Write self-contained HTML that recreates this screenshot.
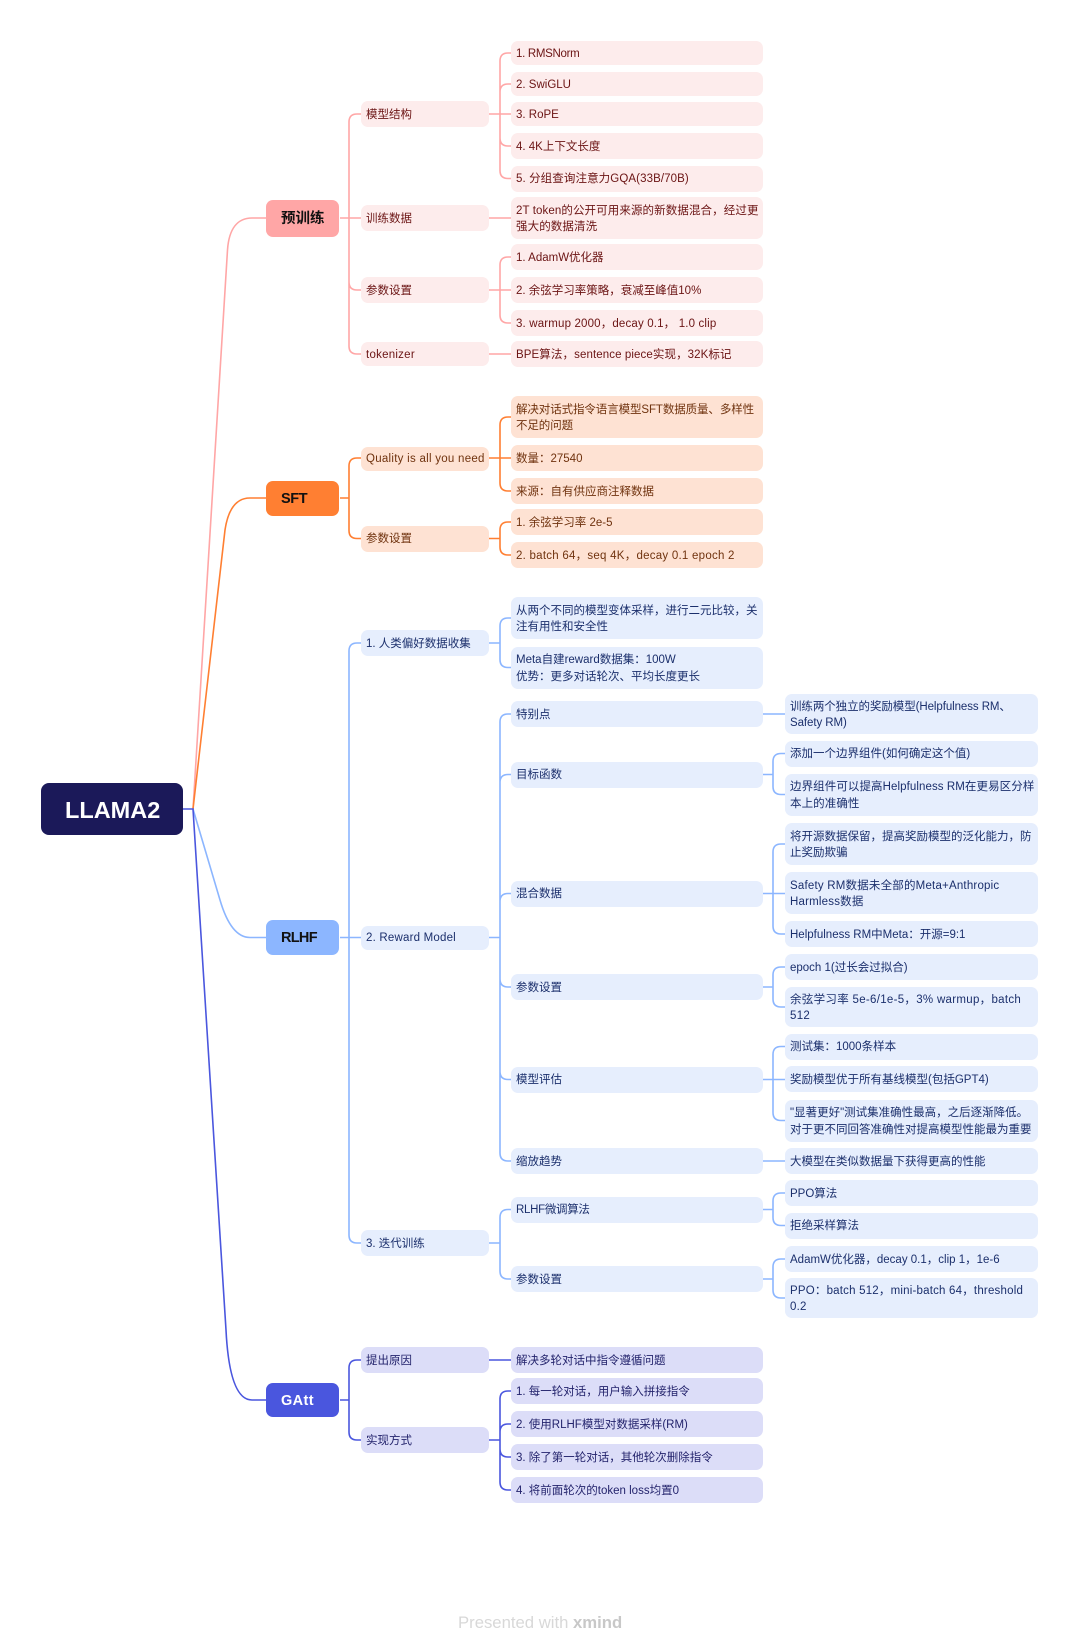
<!DOCTYPE html>
<html lang="zh"><head><meta charset="utf-8"><title>LLAMA2</title>
<style>
html,body{margin:0;padding:0;background:#fff}
#p{position:relative;width:1080px;height:1646px;overflow:hidden;font-family:"Liberation Sans","Noto Sans CJK SC",sans-serif;background:#fff}
svg{position:absolute;left:0;top:0}
.b{position:absolute;display:flex;align-items:center;box-sizing:border-box;padding-left:5px;padding-top:2px;border-radius:7px;font-size:11.5px;line-height:16.5px;white-space:nowrap}
.l2{left:361px;width:128px}.l3{left:511px;width:252px}.l4{left:785px;width:253px}
.t{left:266px;width:73px;border-radius:7px;padding-left:15px;font-size:14.5px;font-weight:700;color:#111}
.a{background:#fdecec;color:#6b1414}.c{background:#fee2d3;color:#70330f}.d{background:#e6eefd;color:#1b2f6c}.e{background:#dcddf8;color:#23236c}
</style></head><body><div id="p">
<svg width="1080" height="1646" fill="none" stroke-width="1.6">
<g stroke="#ffa6a6">
<path d="M193,809L227.5,250C229,228 238,218 252,218H266"/>
<path d="M340,218H361M361,114H357Q349,114 349,122V346Q349,354 357,354H361M361,290H357Q349,290 349,282"/>
<path d="M489,114H511M511,53H508Q500,53 500,61V170.5Q500,178.5 508,178.5H511M511,84H508Q500,84 500,92M511,146H508Q500,146 500,138"/>
<path d="M489,218H511M489,354H511"/>
<path d="M489,290H511M511,257H508Q500,257 500,265V315Q500,323 508,323H511"/>
</g>
<g stroke="#ff7f32">
<path d="M193,809L225,530C228,510 236,498 250,498H266"/>
<path d="M340,498H349M361,458H357Q349,458 349,466V530.5Q349,538.5 357,538.5H361"/>
<path d="M489,458H511M511,417H508Q500,417 500,425V483Q500,491 508,491H511"/>
<path d="M489,538.5H500M511,522H508Q500,522 500,530V547Q500,555 508,555H511"/>
</g>
<g stroke="#8cb6ff">
<path d="M193,809L220,900Q231,937.5 250,937.5H266"/>
<path d="M340,937.5H361M361,643H357Q349,643 349,651V1235Q349,1243 357,1243H361"/>
<path d="M489,643H500M511,618H508Q500,618 500,626V659.5Q500,667.5 508,667.5H511"/>
<path d="M489,937.5H500M511,714H508Q500,714 500,722V1153Q500,1161 508,1161H511M511,774.5H508Q500,774.5 500,782.5M511,893.5H508Q500,893.5 500,901.5M511,987H508Q500,987 500,979M511,1079.5H508Q500,1079.5 500,1071.5"/>
<path d="M489,1243H500M511,1209.5H508Q500,1209.5 500,1217.5V1271Q500,1279 508,1279H511"/>
<path d="M763,714H785M763,1161H785"/>
<path d="M763,774.5H773M785,753.5H781Q773,753.5 773,761.5V786.5Q773,794.5 781,794.5H785"/>
<path d="M763,893.5H785M785,844H781Q773,844 773,852V926Q773,934 781,934H785"/>
<path d="M763,987H773M785,967H781Q773,967 773,975V999Q773,1007 781,1007H785"/>
<path d="M763,1079.5H785M785,1046.5H781Q773,1046.5 773,1054.5V1112.5Q773,1120.5 781,1120.5H785"/>
<path d="M763,1209.5H773M785,1193H781Q773,1193 773,1201V1217.5Q773,1225.5 781,1225.5H785"/>
<path d="M763,1279H773M785,1259H781Q773,1259 773,1267V1290Q773,1298 781,1298H785"/>
</g>
<g stroke="#4a56de">
<path d="M183,809H193L226,1330C228,1370 235,1400 252,1400H266"/>
<path d="M340,1400H349M361,1360H357Q349,1360 349,1368V1432Q349,1440 357,1440H361"/>
<path d="M489,1360H511"/>
<path d="M489,1440H500M511,1391H508Q500,1391 500,1399V1482Q500,1490 508,1490H511M511,1424H508Q500,1424 500,1432M511,1457H508Q500,1457 500,1449"/>
</g>
</svg>

<div class="b" style="left:41px;top:783px;width:142px;height:52px;background:#1b1959;color:#fff;font-size:23.5px;font-weight:700;padding-left:24px;border-radius:8px">LLAMA2</div>

<div class="b t" style="top:200px;height:37px;background:#ffa6a6">预训练</div>
<div class="b t" style="top:481px;height:35px;background:#ff7f32;letter-spacing:-.4px">SFT</div>
<div class="b t" style="top:920px;height:35px;background:#8cb6ff;letter-spacing:-.7px">RLHF</div>
<div class="b t" style="top:1383px;height:34px;background:#4a56de;color:#fff;letter-spacing:.4px">GAtt</div>

<div class="b l2 a" style="top:101px;height:26px">模型结构</div>
<div class="b l2 a" style="top:205px;height:26px">训练数据</div>
<div class="b l2 a" style="top:277px;height:26px">参数设置</div>
<div class="b l2 a" style="top:342px;height:24px;letter-spacing:.25px">tokenizer</div>
<div class="b l3 a" style="top:41px;height:24px;letter-spacing:-.3px">1. RMSNorm</div>
<div class="b l3 a" style="top:72px;height:24px">2. SwiGLU</div>
<div class="b l3 a" style="top:102px;height:24px">3. RoPE</div>
<div class="b l3 a" style="top:133px;height:26px">4. 4K上下文长度</div>
<div class="b l3 a" style="top:165.5px;height:26px;letter-spacing:.1px">5. 分组查询注意力GQA(33B/70B)</div>
<div class="b l3 a" style="top:197px;height:42px;letter-spacing:.1px">2T token的公开可用来源的新数据混合，经过更<br>强大的数据清洗</div>
<div class="b l3 a" style="top:244px;height:26px">1. AdamW优化器</div>
<div class="b l3 a" style="top:277px;height:26px">2. 余弦学习率策略，衰减至峰值10%</div>
<div class="b l3 a" style="top:310px;height:26px;letter-spacing:.16px">3. warmup 2000，decay 0.1， 1.0 clip</div>
<div class="b l3 a" style="top:341px;height:26px;letter-spacing:.1px">BPE算法，sentence piece实现，32K标记</div>

<div class="b l2 c" style="top:446.5px;height:24px;letter-spacing:.27px">Quality is all you need</div>
<div class="b l2 c" style="top:525.5px;height:26px">参数设置</div>
<div class="b l3 c" style="top:396px;height:42px;letter-spacing:-.1px">解决对话式指令语言模型SFT数据质量、多样性<br>不足的问题</div>
<div class="b l3 c" style="top:445px;height:26px">数量：27540</div>
<div class="b l3 c" style="top:478px;height:26px">来源：自有供应商注释数据</div>
<div class="b l3 c" style="top:509px;height:26px">1. 余弦学习率 2e-5</div>
<div class="b l3 c" style="top:542px;height:26px;letter-spacing:.25px">2. batch 64，seq 4K，decay 0.1 epoch 2</div>

<div class="b l2 d" style="top:630px;height:26px">1. 人类偏好数据收集</div>
<div class="b l2 d" style="top:925.5px;height:24px;letter-spacing:.2px">2. Reward Model</div>
<div class="b l2 d" style="top:1230px;height:26px">3. 迭代训练</div>
<div class="b l3 d" style="top:597px;height:42px">从两个不同的模型变体采样，进行二元比较，关<br>注有用性和安全性</div>
<div class="b l3 d" style="top:646.5px;height:42px">Meta自建reward数据集：100W<br>优势：更多对话轮次、平均长度更长</div>
<div class="b l3 d" style="top:701px;height:26px">特别点</div>
<div class="b l3 d" style="top:761.5px;height:26px">目标函数</div>
<div class="b l3 d" style="top:880.5px;height:26px">混合数据</div>
<div class="b l3 d" style="top:974px;height:26px">参数设置</div>
<div class="b l3 d" style="top:1066.5px;height:26px">模型评估</div>
<div class="b l3 d" style="top:1148px;height:26px">缩放趋势</div>
<div class="b l3 d" style="top:1196.5px;height:26px;letter-spacing:-.3px">RLHF微调算法</div>
<div class="b l3 d" style="top:1266px;height:26px">参数设置</div>
<div class="b l4 d" style="top:694px;height:40px;letter-spacing:-.08px">训练两个独立的奖励模型(Helpfulness RM、<br>Safety RM)</div>
<div class="b l4 d" style="top:740.5px;height:26px">添加一个边界组件(如何确定这个值)</div>
<div class="b l4 d" style="top:773.5px;height:42px;letter-spacing:.08px">边界组件可以提高Helpfulness RM在更易区分样<br>本上的准确性</div>
<div class="b l4 d" style="top:823px;height:42px">将开源数据保留，提高奖励模型的泛化能力，防<br>止奖励欺骗</div>
<div class="b l4 d" style="top:872px;height:42px;letter-spacing:.2px">Safety RM数据未全部的Meta+Anthropic<br>Harmless数据</div>
<div class="b l4 d" style="top:921px;height:26px">Helpfulness RM中Meta：开源=9:1</div>
<div class="b l4 d" style="top:954px;height:26px">epoch 1(过长会过拟合)</div>
<div class="b l4 d" style="top:987px;height:40px;letter-spacing:.3px">余弦学习率 5e-6/1e-5，3% warmup，batch<br>512</div>
<div class="b l4 d" style="top:1033.5px;height:26px">测试集：1000条样本</div>
<div class="b l4 d" style="top:1066px;height:26px">奖励模型优于所有基线模型(包括GPT4)</div>
<div class="b l4 d" style="top:1099.5px;height:42px">"显著更好"测试集准确性最高，之后逐渐降低。<br>对于更不同回答准确性对提高模型性能最为重要</div>
<div class="b l4 d" style="top:1148px;height:26px">大模型在类似数据量下获得更高的性能</div>
<div class="b l4 d" style="top:1180px;height:26px">PPO算法</div>
<div class="b l4 d" style="top:1212.5px;height:26px">拒绝采样算法</div>
<div class="b l4 d" style="top:1246px;height:26px">AdamW优化器，decay 0.1，clip 1，1e-6</div>
<div class="b l4 d" style="top:1278px;height:40px;letter-spacing:.2px">PPO：batch 512，mini-batch 64，threshold<br>0.2</div>

<div class="b l2 e" style="top:1347px;height:26px">提出原因</div>
<div class="b l2 e" style="top:1427px;height:26px">实现方式</div>
<div class="b l3 e" style="top:1347px;height:26px">解决多轮对话中指令遵循问题</div>
<div class="b l3 e" style="top:1378px;height:26px">1. 每一轮对话，用户输入拼接指令</div>
<div class="b l3 e" style="top:1411px;height:26px">2. 使用RLHF模型对数据采样(RM)</div>
<div class="b l3 e" style="top:1444px;height:26px">3. 除了第一轮对话，其他轮次删除指令</div>
<div class="b l3 e" style="top:1477px;height:26px">4. 将前面轮次的token loss均置0</div>

<div style="position:absolute;left:458px;top:1613px;width:170px;font-size:16.7px;line-height:20px;color:#d8d8d8;white-space:nowrap">Presented with <b style="color:#c8c8c8">xmind</b></div>
</div></body></html>
